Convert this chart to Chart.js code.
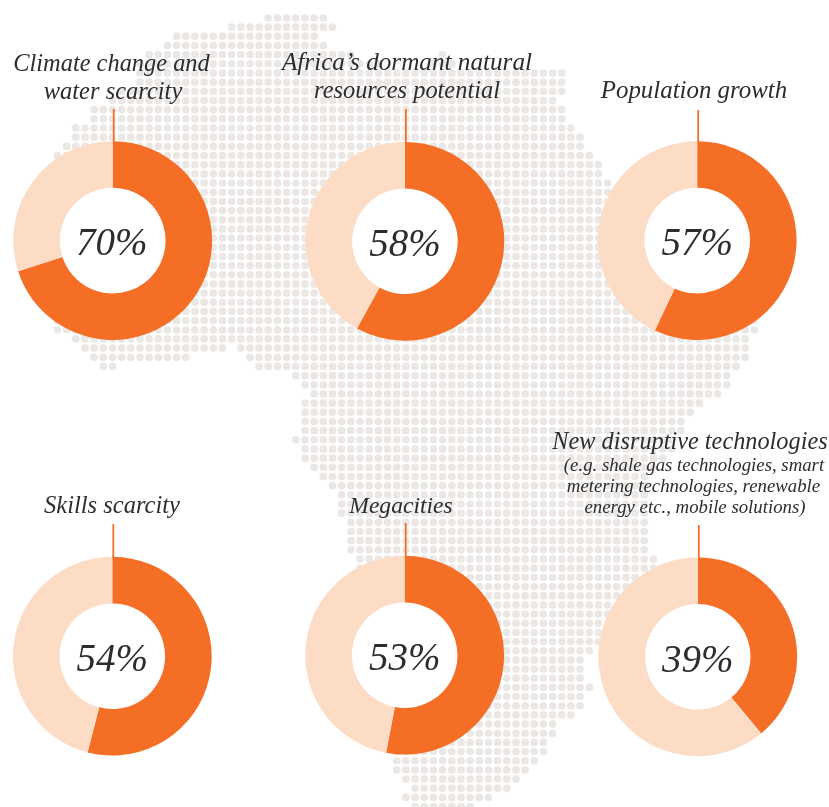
<!DOCTYPE html>
<html>
<head>
<meta charset="utf-8">
<script src="https://cdn.jsdelivr.net/npm/chart.js@4"></script>
<style>
html,body{margin:0;padding:0;background:#fff;width:829px;height:807px;overflow:hidden}
#stage{position:relative;width:829px;height:807px}
canvas{position:absolute;display:block}
.t{position:absolute;white-space:nowrap;font-family:"Liberation Serif",serif;font-style:italic;color:#2d2d2d;transform:translateX(-50%)}
</style>
</head>
<body>
<div id="stage"></div>
<script>
// ---------- data ----------
const categories = ["Climate change and water scarcity","Africa\u2019s dormant natural resources potential","Population growth","Skills scarcity","Megacities","New disruptive technologies"];
const percentValues = [70,58,57,54,53,39];
const remainderValues = [30,42,43,46,47,61];
const percentLabels = ["70%","58%","57%","54%","53%","39%"];
// dot-map: first and last occupied grid column of each grid row (row 0 = top)
const mapRowStart = [29,25,19,18,16,15,15,15,13,12,10,10,8,8,7,6,6,6,6,6,6,6,6,6,6,6,6,6,6,6,6,6,6,6,6,8,9,10,11,32,33,34,33,33,33,33,32,33,33,34,35,36,37,37,37,38,38,38,38,39,39,39,40,40,40,40,40,40,41,41,41,41,41,42,42,42,42,42,42,43,43,43,43,44,45,44,45];
const mapRowEnd = [35,36,34,35,38,41,61,61,61,60,61,61,62,63,63,64,65,65,66,66,66,66,67,67,68,68,68,69,69,70,70,70,76,82,82,81,81,81,80,79,79,78,76,75,74,74,73,73,72,71,70,70,70,70,70,70,70,70,70,71,71,69,68,67,66,66,65,65,65,64,63,63,63,64,63,63,62,60,60,59,59,58,57,56,55,53,51];
// dot-map: empty runs inside a row [row, from, to]
const mapGaps = [[36,25,25],[37,21,26],[38,13,27]];
// dot-map: isolated dots [column, row]
const mapExtras = [[48,4],[47,5],[48,5],[49,5]];

// ---------- layout & style (not data) ----------
const W = 829, H = 807, PITCH = 9.17, X0 = 2.4, Y0 = 18;
const ORANGE = "#f56e25", LIGHT = "#fddcc6", DOT = "#ebe7e5";
const centers = [[112.7,240.6],[404.9,241.3],[697.2,240.6],[112.3,656.2],[404.7,655.2],[697.8,656.8]];
const leadTop = [109,109,110,524,523.5,525];
const RADIUS = 99.4, HOLE = 54;
const titleLines = [
 ["Climate change and",111.5,70.8,24.4],["water scarcity",113,98.8,24.5],
 ["Africa\u2019s dormant natural",407,70.8,25.2],["resources potential",407,97.8,24.4],
 ["Population growth",694,98.8,24.9],
 ["Skills scarcity",112,512.8,24.5],
 ["Megacities",401,512.8,23.6],
 ["New disruptive technologies",690,448.8,24.3],
 ["(e.g. shale gas technologies, smart",694,470.5,18.8],
 ["metering technologies, renewable",693.5,492,18.8],
 ["energy etc., mobile solutions)",695,513,18.8]
];
const PCT_SIZE = 39;

const stage = document.getElementById("stage");
function addCanvas(l,t,w,h){
  const c=document.createElement("canvas");
  c.width=w;c.height=h;c.style.left=l+"px";c.style.top=t+"px";c.style.width=w+"px";c.style.height=h+"px";
  stage.appendChild(c);return c;
}
function addText(s,x,base,size){
  const d=document.createElement("div");d.className="t";d.textContent=s;
  const L=Math.round(size*1.2);
  d.style.fontSize=size+"px";d.style.lineHeight=L+"px";d.style.left=x+"px";
  d.style.top=(base-((L-1.107*size)/2+0.891*size))+"px";
  stage.appendChild(d);
}

// dot-map points from the row tables
const mapPoints=[];
mapRowStart.forEach((s,r)=>{
  for(let c=s;c<=mapRowEnd[r];c++){
    if(mapGaps.some(g=>g[0]===r&&c>=g[1]&&c<=g[2]))continue;
    mapPoints.push({x:c,y:r});
  }
});
mapExtras.forEach(p=>mapPoints.push({x:p[0],y:p[1]}));

new Chart(addCanvas(0,0,W,H),{
  type:"scatter",
  data:{datasets:[{label:"Africa",data:mapPoints,pointRadius:3.85,pointHoverRadius:3.85,pointBackgroundColor:DOT,pointBorderWidth:0}]},
  options:{
    responsive:false,animation:false,events:[],
    layout:{padding:0,autoPadding:false},
    plugins:{legend:{display:false},tooltip:{enabled:false}},
    scales:{
      x:{type:"linear",display:false,min:-X0/PITCH,max:(W-X0)/PITCH},
      y:{type:"linear",display:false,reverse:true,min:-Y0/PITCH,max:(H-Y0)/PITCH}
    }
  }
});

// doughnuts
const donutExtras={
  id:"donutExtras",
  beforeDatasetsDraw(ch){
    const arc=ch.getDatasetMeta(0).data[0],c=ch.ctx;
    c.save();c.fillStyle="#fff";c.beginPath();c.arc(arc.x,arc.y,arc.innerRadius+0.5,0,Math.PI*2);c.fill();c.restore();
  },
  afterDatasetsDraw(ch){
    const arc=ch.getDatasetMeta(0).data[0],c=ch.ctx;
    c.save();c.strokeStyle=ORANGE;c.lineWidth=1.8;c.beginPath();
    c.moveTo(arc.x+1,0);c.lineTo(arc.x+1,arc.y-arc.outerRadius+1);c.stroke();c.restore();
  }
};
percentValues.forEach((v,i)=>{
  const [cx,cy]=centers[i];
  const top=Math.floor(leadTop[i]), left=Math.round(cx)-102, boxTop=Math.round(cy)-102;
  const pad=boxTop-top;
  const dx=cx-Math.round(cx), dy=cy-Math.round(cy);
  const cv=addCanvas(left,top,204,204+pad);
  new Chart(cv,{
    type:"doughnut",
    data:{labels:[categories[i],"Other"],datasets:[{data:[v,remainderValues[i]],backgroundColor:[ORANGE,LIGHT],borderWidth:0,hoverOffset:0}]},
    options:{
      responsive:false,animation:false,events:[],
      radius:RADIUS,cutout:HOLE,rotation:0,
      layout:{padding:{top:pad+Math.max(2*dy,0),bottom:Math.max(-2*dy,0),left:Math.max(2*dx,0),right:Math.max(-2*dx,0)}},
      plugins:{legend:{display:false},tooltip:{enabled:false},title:{display:false}}
    },
    plugins:[donutExtras]
  });
});

titleLines.forEach(t=>addText(t[0],t[1],t[2],t[3]));
percentLabels.forEach((s,i)=>addText(s,centers[i][0]+(i==0?-1:0),centers[i][1]+14.5,PCT_SIZE));
</script>
</body>
</html>
